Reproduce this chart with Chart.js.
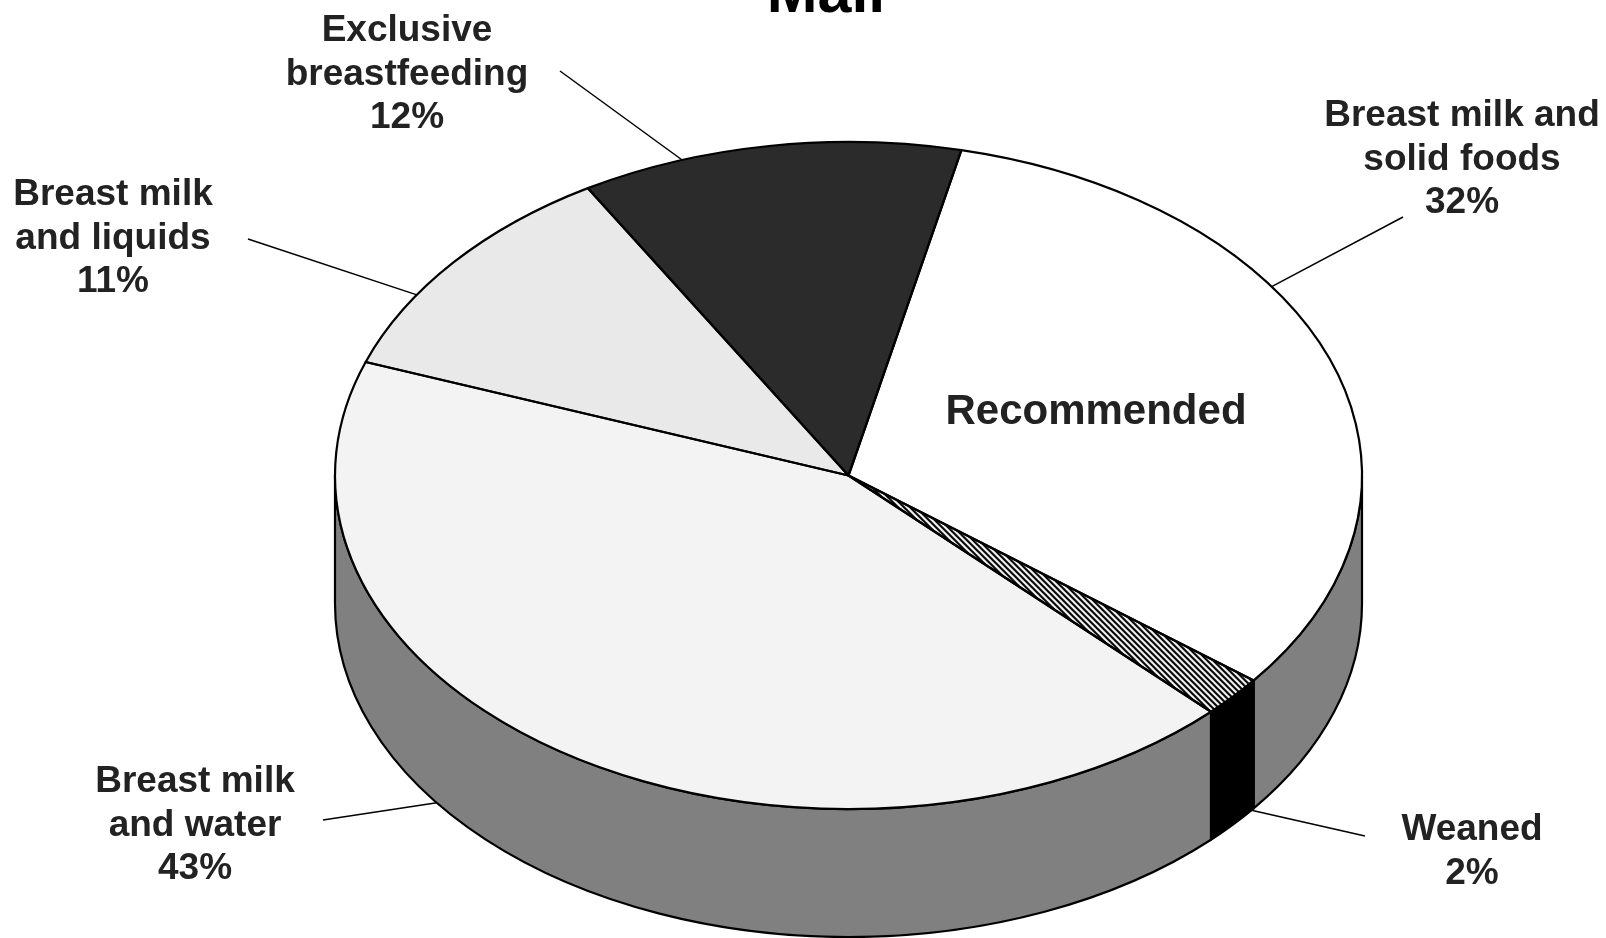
<!DOCTYPE html>
<html><head><meta charset="utf-8">
<script src="https://cdn.jsdelivr.net/npm/chart.js@4.4.1/dist/chart.umd.min.js"></script>
<style>html,body{margin:0;padding:0;background:#fff;overflow:hidden}#wrap{width:1606px;height:938px;position:relative}canvas{display:block}</style>
</head><body><div id="wrap"><canvas id="c" width="1606" height="938"></canvas></div>
<script>
// ---- data ----
const title = 'Mali';
const categories = ['Exclusive breastfeeding', 'Breast milk and solid foods', 'Weaned', 'Breast milk and water', 'Breast milk and liquids'];
const values = [12, 32, 2, 43, 11];
const labelLines = [['Exclusive', 'breastfeeding'], ['Breast milk and', 'solid foods'], ['Weaned'], ['Breast milk', 'and water'], ['Breast milk', 'and liquids']];
const callout = 'Recommended';

// ---- styles ----
function hatch() {
  const c = document.createElement('canvas');
  c.width = 6; c.height = 6;
  const g = c.getContext('2d');
  g.fillStyle = '#fff'; g.fillRect(0, 0, 6, 6);
  g.strokeStyle = '#000'; g.lineWidth = 2.2; g.lineCap = 'square';
  g.beginPath();
  g.moveTo(-1, -1); g.lineTo(7, 7);
  g.moveTo(-4, 2); g.lineTo(2, 8);
  g.moveTo(2, -4); g.lineTo(8, 2);
  g.stroke();
  return g.createPattern(c, 'repeat');
}
const hatchPattern = hatch();
const topColors = ['#2b2b2b', '#ffffff', hatchPattern, '#f3f3f3', '#e9e9e9'];
const sideColors = ['#808080', '#808080', '#000000', '#808080', '#808080'];
const labelLayout = [
  { x: 407, y: 41, anchor: -108.9, rim: 'top', to: [560, 71] },
  { x: 1462, y: 126, anchor: -34.5, rim: 'top', to: [1403, 217] },
  { x: 1472, y: 840, anchor: 38.3, rim: 'bottom', to: [1365, 836] },
  { x: 195, y: 792, anchor: 143.3, rim: 'bottom', to: [323, 820] },
  { x: 113, y: 205, anchor: -147.2, rim: 'top', to: [248, 239] }
];
const FONT = '"Liberation Sans", Arial, Helvetica, sans-serif';

const pie3d = {
  id: 'pie3d',
  beforeDatasetsDraw(chart, args, opts) {
    const ctx = chart.ctx;
    const arcs = chart.getDatasetMeta(0).data;
    const ca = chart.chartArea;
    const rx = (ca.right - ca.left) / 2, cx = (ca.left + ca.right) / 2;
    const ry = rx * opts.tilt, cy = ca.top + ry, d = opts.depth;
    chart.$geo = { cx, cy, rx, ry, d };
    ctx.save();
    ctx.lineWidth = 2.2; ctx.strokeStyle = '#000'; ctx.lineJoin = 'round';
    arcs.forEach((a, i) => {
      for (let k = -1; k <= 1; k++) {
        const lo = Math.max(a.startAngle + 2 * Math.PI * k, 0);
        const hi = Math.min(a.endAngle + 2 * Math.PI * k, Math.PI);
        if (hi <= lo) continue;
        ctx.beginPath();
        ctx.ellipse(cx, cy, rx, ry, 0, lo, hi, false);
        ctx.lineTo(cx + rx * Math.cos(hi), cy + ry * Math.sin(hi) + d);
        ctx.ellipse(cx, cy + d, rx, ry, 0, hi, lo, true);
        ctx.closePath();
        ctx.fillStyle = sideColors[i];
        ctx.fill();
        ctx.stroke();
      }
    });
    ctx.restore();
    const a0 = arcs[0];
    const R = a0.outerRadius;
    if (hatchPattern.setTransform) hatchPattern.setTransform(new DOMMatrix([R / rx, 0, 0, R / ry, 0, 0]));
    ctx.save();
    ctx.translate(cx, cy);
    ctx.scale(rx / R, ry / R);
    ctx.translate(-a0.x, -a0.y);
  },
  afterDatasetsDraw(chart) {
    const ctx = chart.ctx;
    ctx.restore();
    const { cx, cy, rx, ry, d } = chart.$geo;
    const arcs = chart.getDatasetMeta(0).data;
    ctx.save();
    ctx.lineWidth = 2.2; ctx.strokeStyle = '#000'; ctx.lineJoin = 'round';
    arcs.forEach(a => {
      ctx.beginPath();
      ctx.moveTo(cx, cy);
      ctx.ellipse(cx, cy, rx, ry, 0, a.startAngle, a.endAngle, false);
      ctx.closePath();
      ctx.stroke();
    });
    // leader lines + labels
    ctx.lineWidth = 1.5;
    ctx.fillStyle = '#222';
    ctx.textAlign = 'center';
    ctx.textBaseline = 'alphabetic';
    ctx.font = 'bold 37px ' + FONT;
    labelLayout.forEach((L, i) => {
      const t = L.anchor * Math.PI / 180;
      const px = cx + rx * Math.cos(t);
      const py = cy + ry * Math.sin(t) + (L.rim === 'bottom' ? d : 0);
      ctx.beginPath();
      ctx.moveTo(L.to[0], L.to[1]);
      ctx.lineTo(px, py);
      ctx.stroke();
      const lines = labelLines[i].concat([values[i] + '%']);
      lines.forEach((s, j) => ctx.fillText(s, L.x, L.y + j * 43.5));
    });
    ctx.font = 'bold 42px ' + FONT;
    ctx.fillText(callout, 1096, 424);
    ctx.fillStyle = '#000';
    ctx.font = 'bold 61px ' + FONT;
    ctx.fillText(title, 826, 12);
    ctx.restore();
  }
};

new Chart(document.getElementById('c'), {
  type: 'pie',
  data: {
    labels: categories,
    datasets: [{ data: values, backgroundColor: topColors, borderWidth: 0, clip: false }]
  },
  options: {
    responsive: false,
    animation: false,
    events: [],
    rotation: -30.5,
    layout: { padding: { left: 335, right: 244, top: 142, bottom: 0 } },
    plugins: {
      legend: { display: false },
      tooltip: { enabled: false },
      title: { display: false },
      pie3d: { tilt: 0.6495, depth: 128 }
    }
  },
  plugins: [pie3d]
});
</script>
</body></html>
